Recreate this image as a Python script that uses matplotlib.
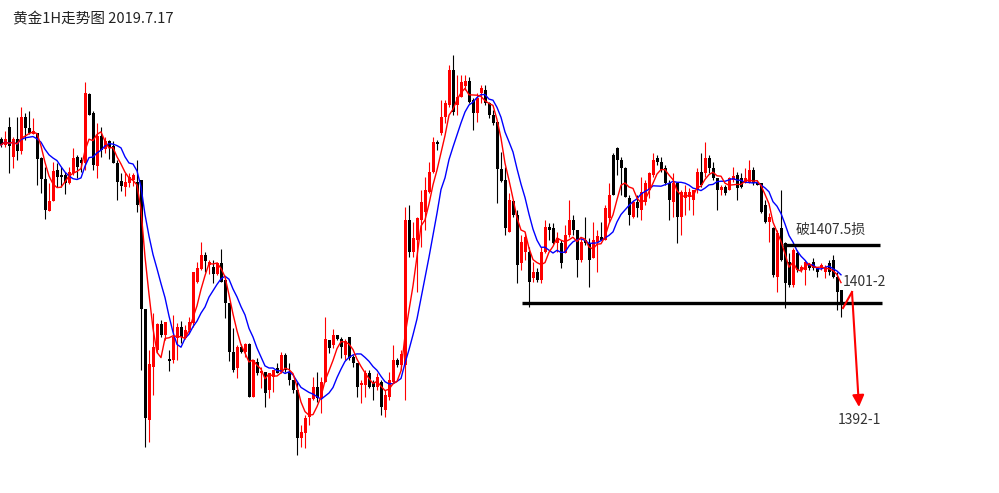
import numpy as np
import pandas as pd
import matplotlib
matplotlib.use('Agg')
import matplotlib.pyplot as plt

plt.rcParams['font.family'] = ['Noto Sans CJK SC', 'DejaVu Sans']

title = '黄金1H走势图 2019.7.17'

# hourly gold candles
opens = [1418.1, 1417.5, 1419.3, 1416.3, 1418.1, 1416.9, 1420.3, 1419.2, 1418.6, 1418.7,
         1416.2, 1414.1, 1410.9, 1411.9, 1415.0, 1414.5, 1414.5, 1413.7, 1414.7, 1416.3,
         1416.0, 1415.7, 1422.6, 1420.7, 1415.4, 1418.4, 1417.1, 1417.9, 1417.4, 1415.7,
         1413.9, 1413.3, 1413.7, 1414.0, 1413.8, 1414.0, 1401.1, 1390.0, 1395.3, 1397.0,
         1399.6, 1398.5, 1396.1, 1396.0, 1398.2, 1399.3, 1398.2, 1399.0, 1399.7, 1403.8,
         1405.1, 1406.5, 1405.5, 1405.3, 1404.6, 1405.7, 1404.0, 1401.7, 1396.8, 1395.2,
         1397.3, 1396.8, 1397.6, 1392.3, 1395.8, 1394.7, 1394.8, 1393.0, 1394.3, 1395.2,
         1394.8, 1396.5, 1394.8, 1394.0, 1393.0, 1388.2, 1388.7, 1390.3, 1392.1, 1393.3,
         1392.2, 1393.8, 1398.0, 1397.5, 1398.5, 1398.1, 1396.5, 1398.3, 1396.3, 1395.7,
         1393.5, 1393.5, 1394.7, 1393.8, 1393.3, 1393.8, 1391.0, 1392.3, 1393.8, 1396.0,
         1395.5, 1395.5, 1410.0, 1406.8, 1408.0, 1410.0, 1410.8, 1412.8, 1414.8, 1417.8,
         1418.7, 1420.3, 1421.5, 1425.0, 1421.5, 1422.3, 1423.4, 1423.9, 1422.0, 1420.7,
         1422.7, 1423.0, 1421.7, 1420.5, 1419.8, 1415.1, 1414.0, 1408.8, 1411.9, 1410.5,
         1405.7, 1406.8, 1406.8, 1404.2, 1404.8, 1404.0, 1406.8, 1409.3, 1409.2, 1407.7,
         1407.7, 1406.7, 1408.5, 1410.0, 1409.0, 1406.0, 1408.0, 1407.7, 1406.2, 1407.8,
         1408.3, 1408.0, 1410.2, 1416.5, 1417.2, 1416.0, 1415.2, 1412.2, 1410.3, 1411.8,
         1411.0, 1411.8, 1413.0, 1414.5, 1416.2, 1415.8, 1415.2, 1413.7, 1411.8, 1413.7,
         1410.3, 1412.2, 1412.3, 1412.0, 1413.0, 1414.8, 1414.7, 1416.2, 1415.2, 1414.2,
         1413.0, 1413.3, 1413.0, 1414.0, 1414.5, 1414.2, 1413.8, 1413.8, 1415.0, 1413.8,
         1413.7, 1411.5, 1409.8, 1409.2, 1404.3, 1409.2, 1407.7, 1405.8, 1403.5, 1406.7,
         1405.0, 1405.0, 1405.5, 1405.8, 1405.2, 1405.2, 1404.8, 1405.7, 1406.0, 1404.3, 1403.0]

highs = [1418.3, 1418.9, 1420.3, 1418.3, 1420.3, 1421.3, 1420.7, 1420.9, 1420.2, 1418.7,
         1416.3, 1415.3, 1413.7, 1415.8, 1415.7, 1415.3, 1414.8, 1415.3, 1417.2, 1416.5,
         1416.3, 1423.8, 1422.7, 1420.9, 1419.7, 1419.3, 1418.3, 1418.0, 1417.9, 1416.0,
         1414.7, 1414.7, 1414.7, 1414.7, 1416.0, 1414.0, 1401.1, 1397.0, 1400.7, 1399.7,
         1400.0, 1399.8, 1397.0, 1400.5, 1399.7, 1399.9, 1399.5, 1400.3, 1404.8, 1405.8,
         1407.8, 1406.8, 1406.0, 1406.0, 1405.8, 1407.1, 1404.0, 1401.7, 1399.2, 1397.5,
         1397.6, 1397.7, 1397.7, 1396.0, 1396.2, 1395.3, 1394.8, 1394.7, 1395.0, 1395.7,
         1396.8, 1396.7, 1395.7, 1394.0, 1393.8, 1389.5, 1390.5, 1392.2, 1394.3, 1394.8,
         1394.3, 1400.3, 1398.0, 1399.1, 1398.5, 1398.3, 1398.1, 1398.3, 1396.5, 1395.7,
         1394.0, 1395.0, 1395.0, 1394.0, 1394.7, 1394.0, 1393.0, 1394.8, 1397.5, 1396.2,
         1397.0, 1411.3, 1411.5, 1409.8, 1410.3, 1413.0, 1414.3, 1415.8, 1418.3, 1418.0,
         1422.0, 1422.0, 1425.5, 1426.5, 1424.5, 1424.5, 1424.5, 1424.3, 1422.2, 1422.7,
         1423.5, 1423.5, 1421.8, 1421.0, 1419.8, 1416.8, 1415.3, 1412.7, 1412.0, 1411.0,
         1408.5, 1408.8, 1407.3, 1405.8, 1405.2, 1407.3, 1410.0, 1409.7, 1409.7, 1408.8,
         1408.0, 1409.5, 1412.0, 1410.5, 1409.0, 1408.2, 1410.3, 1408.2, 1409.8, 1409.0,
         1409.8, 1411.5, 1413.7, 1416.7, 1417.3, 1416.3, 1415.3, 1412.5, 1412.0, 1412.5,
         1414.3, 1414.0, 1414.8, 1416.7, 1416.5, 1416.3, 1415.5, 1414.0, 1414.7, 1413.7,
         1413.0, 1413.5, 1413.2, 1413.0, 1415.2, 1416.7, 1417.8, 1416.5, 1415.8, 1414.2,
         1413.5, 1413.5, 1414.3, 1415.3, 1414.8, 1414.7, 1415.2, 1416.0, 1415.3, 1414.0,
         1413.7, 1412.0, 1410.7, 1409.3, 1409.0, 1413.0, 1407.8, 1406.7, 1407.2, 1407.0,
         1405.5, 1406.0, 1405.7, 1406.2, 1405.3, 1405.7, 1405.5, 1406.0, 1406.5, 1404.8, 1403.0]

lows = [1417.3, 1417.3, 1414.7, 1415.2, 1416.0, 1416.6, 1418.0, 1418.6, 1418.6, 1413.5,
        1412.7, 1410.1, 1410.9, 1411.9, 1413.3, 1413.3, 1412.6, 1413.6, 1414.5, 1414.2,
        1414.8, 1415.0, 1420.5, 1415.0, 1414.2, 1416.3, 1416.7, 1416.1, 1415.7, 1412.0,
        1412.9, 1412.4, 1413.3, 1413.4, 1410.8, 1395.0, 1387.3, 1387.8, 1392.5, 1396.7,
        1398.3, 1398.0, 1394.9, 1395.7, 1396.0, 1397.7, 1398.1, 1398.8, 1399.3, 1403.7,
        1405.0, 1404.8, 1404.6, 1403.7, 1404.5, 1403.8, 1400.2, 1395.9, 1394.8, 1394.2,
        1396.7, 1396.3, 1392.3, 1392.3, 1394.5, 1393.2, 1391.3, 1392.2, 1392.8, 1394.7,
        1394.7, 1394.8, 1393.5, 1392.7, 1386.5, 1387.3, 1387.2, 1389.5, 1392.0, 1391.8,
        1390.7, 1393.8, 1396.7, 1397.2, 1398.0, 1396.2, 1396.0, 1396.0, 1395.3, 1392.3,
        1391.7, 1392.3, 1393.2, 1392.0, 1393.0, 1390.5, 1390.3, 1392.0, 1393.7, 1395.3,
        1395.0, 1392.0, 1406.3, 1406.3, 1402.8, 1407.3, 1409.0, 1412.7, 1414.7, 1417.0,
        1418.5, 1419.7, 1421.3, 1420.5, 1420.5, 1422.3, 1423.0, 1421.7, 1419.0, 1419.8,
        1421.7, 1421.5, 1420.2, 1419.5, 1411.7, 1413.8, 1408.5, 1408.8, 1410.3, 1403.7,
        1405.0, 1406.0, 1401.3, 1403.8, 1403.8, 1403.7, 1406.7, 1408.0, 1407.6, 1406.8,
        1405.2, 1406.7, 1408.3, 1408.5, 1404.3, 1405.8, 1407.5, 1403.3, 1406.2, 1404.8,
        1408.0, 1408.0, 1409.8, 1412.5, 1414.5, 1412.5, 1412.3, 1409.5, 1410.2, 1410.3,
        1410.0, 1411.5, 1412.2, 1414.3, 1415.5, 1414.8, 1413.5, 1410.0, 1410.3, 1407.7,
        1408.5, 1410.5, 1411.0, 1410.5, 1412.7, 1413.3, 1414.3, 1414.7, 1414.0, 1411.0,
        1412.5, 1412.5, 1413.0, 1413.8, 1412.0, 1413.2, 1413.7, 1413.7, 1413.5, 1413.5,
        1410.7, 1409.7, 1407.8, 1404.3, 1402.8, 1405.9, 1401.2, 1403.3, 1403.3, 1404.8,
        1404.8, 1403.5, 1405.0, 1405.0, 1404.3, 1405.0, 1404.2, 1404.5, 1404.2, 1401.0, 1400.3]

closes = [1417.5, 1418.1, 1417.4, 1418.1, 1416.9, 1420.3, 1419.2, 1418.7, 1418.9, 1416.1,
          1414.1, 1411.0, 1411.9, 1414.9, 1414.3, 1414.3, 1413.7, 1414.8, 1416.2, 1415.3,
          1415.7, 1422.7, 1420.5, 1415.5, 1418.4, 1417.0, 1417.9, 1417.2, 1415.7, 1413.8,
          1413.4, 1413.8, 1414.3, 1414.5, 1411.5, 1401.1, 1390.2, 1395.6, 1397.3, 1399.6,
          1398.5, 1399.8, 1395.9, 1398.3, 1399.3, 1398.3, 1399.0, 1399.8, 1404.8, 1405.2,
          1406.5, 1405.9, 1405.8, 1404.6, 1405.7, 1403.8, 1401.7, 1396.8, 1395.0, 1397.3,
          1396.8, 1397.6, 1392.3, 1396.0, 1394.7, 1394.9, 1392.7, 1394.7, 1395.0, 1394.7,
          1396.5, 1395.0, 1394.0, 1393.0, 1388.2, 1388.8, 1390.2, 1392.2, 1393.3, 1392.2,
          1393.8, 1398.1, 1397.2, 1398.5, 1398.1, 1397.3, 1397.9, 1396.2, 1395.7, 1393.3,
          1393.7, 1394.7, 1393.3, 1393.3, 1394.3, 1391.3, 1392.5, 1394.0, 1396.0, 1395.5,
          1396.6, 1410.0, 1406.8, 1408.2, 1410.2, 1411.8, 1413.0, 1414.8, 1417.8, 1417.6,
          1420.3, 1421.7, 1425.0, 1420.8, 1422.3, 1423.8, 1423.9, 1421.8, 1420.7, 1422.2,
          1423.2, 1421.7, 1420.5, 1419.7, 1415.1, 1413.9, 1409.2, 1412.0, 1410.5, 1405.5,
          1407.8, 1408.3, 1403.8, 1404.8, 1404.0, 1406.8, 1409.3, 1409.0, 1407.7, 1408.2,
          1405.7, 1408.5, 1410.0, 1409.0, 1406.0, 1407.8, 1407.7, 1406.0, 1408.0, 1408.4,
          1408.0, 1411.2, 1412.5, 1412.5, 1416.0, 1415.2, 1412.3, 1410.5, 1411.8, 1411.2,
          1412.8, 1413.7, 1414.7, 1416.0, 1415.8, 1415.0, 1413.7, 1412.0, 1413.7, 1410.3,
          1412.8, 1412.8, 1412.8, 1413.0, 1414.8, 1413.5, 1416.2, 1415.2, 1414.2, 1413.0,
          1413.3, 1412.7, 1414.2, 1414.4, 1413.2, 1413.3, 1414.2, 1415.0, 1413.7, 1413.5,
          1410.8, 1409.8, 1410.3, 1404.5, 1408.7, 1406.0, 1403.7, 1403.5, 1407.0, 1405.0,
          1405.3, 1405.8, 1405.2, 1405.2, 1404.8, 1405.5, 1405.3, 1404.8, 1404.3, 1402.8, 1401.5]

# drawn-in trade plan
stop_level = 1407.5
stop_span = (195.5, 219.75)
support_level = 1401.7
support_span = (130.25, 220.25)
path_x = [210.5, 212.75, 214.5]
path_y = [1401.2, 1402.8, 1391.3]
labels = [('破1407.5损', 198.75, 1409.0), ('1401-2', 210.5, 1403.8), ('1392-1', 209.25, 1390.0)]

df = pd.DataFrame({'open': opens, 'high': highs, 'low': lows, 'close': closes})
df['ma5'] = df['close'].rolling(5, min_periods=1).mean()
df['ma10'] = df['close'].rolling(10, min_periods=1).mean()
idx = np.arange(len(df))
up = df['close'] >= df['open']
colors = np.where(up, '#ff0000', '#000000')

fig = plt.figure(figsize=(9.99, 4.93), dpi=100)
ax = fig.add_axes([0, 0, 1, 1])
ax.set_xlim(-0.25, -0.25 + 999 / 4)
ax.set_ylim(1432 - 49.3, 1432)
ax.axis('off')

ax.vlines(idx, df['low'], df['high'], colors=colors, linewidth=0.8, zorder=2)
body_lo = np.minimum(df['open'], df['close'])
body_h = np.maximum((df['close'] - df['open']).abs(), 0.12)
ax.bar(idx, body_h, bottom=body_lo, width=0.75, color=colors, linewidth=0, zorder=3)

ax.plot(idx, df['ma10'], color='#0000ff', lw=1, zorder=4)
ax.plot(idx, df['ma5'], color='#ff0000', lw=1, zorder=4)

ax.hlines(stop_level, *stop_span, color='black', lw=2.4, zorder=5)
ax.hlines(support_level, *support_span, color='black', lw=2.4, zorder=5)

ax.plot(path_x[:2], path_y[:2], color='red', lw=1.5, zorder=6)
ax.annotate('', xy=(path_x[2], path_y[2]), xytext=(path_x[1], path_y[1]),
            arrowprops=dict(arrowstyle='-|>,head_length=0.7,head_width=0.35',
                            color='red', lw=1.5, shrinkA=0, shrinkB=0), zorder=6)

for txt, x, y in labels:
    ax.text(x, y, txt, fontsize=10, color='#333333', ha='left', va='center', zorder=7)

fig.text(13 / 999, 1 - 19 / 493, title, fontsize=10.5, color='#222222', ha='left', va='center')

fig.savefig('out.png', dpi=100, facecolor='white')
